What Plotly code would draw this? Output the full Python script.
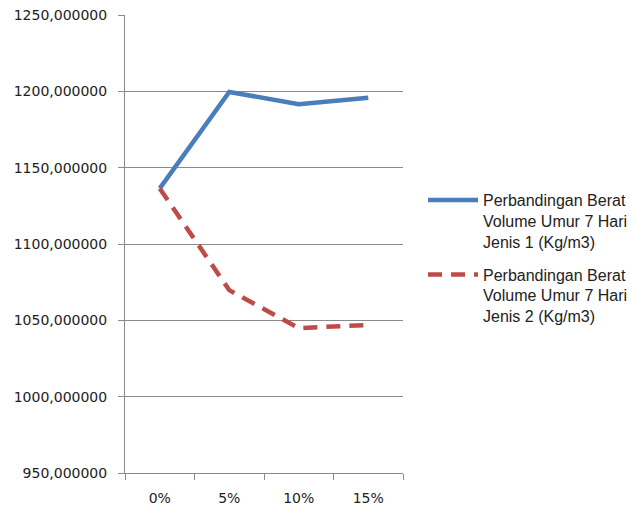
import plotly.graph_objects as go

# Categories (additive percentage) and unit weights for each mix type
categories = ["0%", "5%", "10%", "15%"]
jenis_1 = [1136.4, 1199.6, 1191.6, 1195.8]
jenis_2 = [1136.4, 1069.8, 1044.9, 1047.0]

names = [
    "Perbandingan Berat<br>Volume Umur 7 Hari<br>Jenis 1 (Kg/m3)",
    "Perbandingan Berat<br>Volume Umur 7 Hari<br>Jenis 2 (Kg/m3)",
]

y_ticks = [950, 1000, 1050, 1100, 1150, 1200, 1250]

FONT = "DejaVu Sans"
LEGEND_FONT = "Liberation Sans"
GRID = "#8a8a8a"
TEXT = "#222222"

fig = go.Figure()
fig.add_trace(go.Scatter(
    x=categories, y=jenis_1, mode="lines", name=names[0], legendgroup="j1",
    line=dict(color="#4A7EBB", width=4.5),
))
fig.add_trace(go.Scatter(
    x=categories, y=jenis_2, mode="lines", name=names[1], legendgroup="j2",
    line=dict(color="#BE4B48", width=4.5, dash="14px,9px"),
))

fig.update_layout(
    width=633, height=506,
    margin=dict(l=125, r=230, t=15, b=33, autoexpand=False),
    paper_bgcolor="white", plot_bgcolor="white",
    separators=",.",
    font=dict(family=FONT, size=14, color=TEXT),
    showlegend=True,
    legend=dict(
        x=1.072, y=0.633, xanchor="left", yanchor="top", valign="top",
        font=dict(family=LEGEND_FONT, size=16, color=TEXT),
        bgcolor="rgba(0,0,0,0)", tracegroupgap=9, itemwidth=50,
    ),
)

fig.update_xaxes(
    type="category", range=[-0.5, 3.5], automargin=False,
    showline=True, linecolor=GRID, linewidth=1,
    showgrid=False, zeroline=False,
    ticks="outside", tickson="boundaries", ticklen=6, tickcolor=GRID,
    ticklabelstandoff=12,
    tickfont=dict(family=FONT, size=14, color=TEXT),
)
fig.update_yaxes(
    range=[950, 1250], tickvals=y_ticks, tickformat=".6f", automargin=False,
    showline=True, linecolor=GRID, linewidth=1,
    showgrid=True, gridcolor=GRID, gridwidth=1, zeroline=False,
    ticks="outside", ticklen=6, tickcolor=GRID,
    ticklabelstandoff=8,
    tickfont=dict(family=FONT, size=14, color=TEXT),
)

fig.write_html("out.html")
